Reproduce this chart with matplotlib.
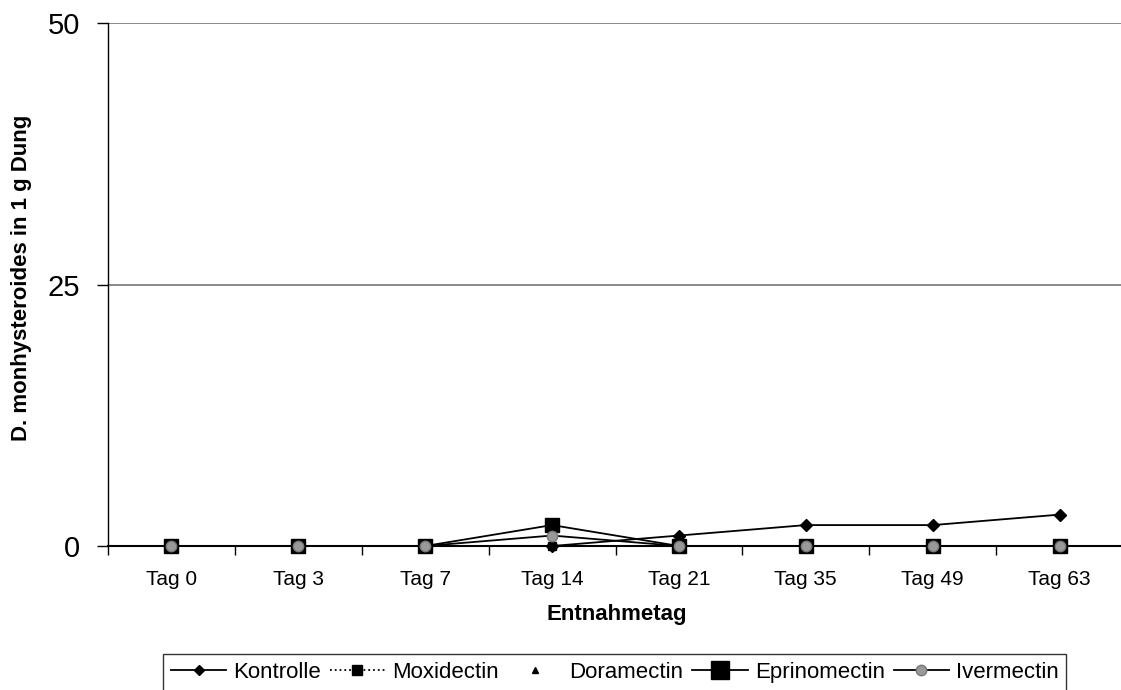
import matplotlib
matplotlib.use("Agg")
import matplotlib.pyplot as plt

plt.rcParams['font.family'] = ['Liberation Sans', 'DejaVu Sans']

days = ["Tag 0", "Tag 3", "Tag 7", "Tag 14", "Tag 21", "Tag 35", "Tag 49", "Tag 63"]
kontrolle = [0, 0, 0, 0, 1, 2, 2, 3]
moxidectin = [0, 0, 0, 0, 0, 0, 0, 0]
doramectin = [0, 0, 0, 0, 0, 0, 0, 0]
eprinomectin = [0, 0, 0, 2, 0, 0, 0, 0]
ivermectin = [0, 0, 0, 1, 0, 0, 0, 0]
y_ticks = [0, 25, 50]

W, H = 1121, 690
fig = plt.figure(figsize=(W / 100, H / 100), dpi=100)
ax = fig.add_axes([108 / W, 1 - 546 / H, 1015 / W, (546 - 23) / H])

x = list(range(len(days)))
ax.plot(x, kontrolle, color='black', lw=1.3, marker='D', ms=6.5,
        mfc='black', mec='black', label='Kontrolle', zorder=3, clip_on=False)
ax.plot(x, moxidectin, color='black', lw=1.3, ls=':', marker='s', ms=6,
        mfc='black', mec='black', label='Moxidectin', zorder=3, clip_on=False)
ax.plot(x, doramectin, ls='none', marker='^', ms=5,
        mfc='black', mec='black', label='Doramectin', zorder=3, clip_on=False)
ax.plot(x, eprinomectin, color='black', lw=1.3, marker='s', ms=10.5,
        mfc='black', mec='black', label='Eprinomectin', zorder=4, clip_on=False)
ax.plot(x, ivermectin, color='black', lw=1.3, marker='o', ms=7.5,
        mfc='#999999', mec='#777777', label='Ivermectin', zorder=5, clip_on=False)

ax.set_xlim(-0.5, len(days) - 0.5)
ax.set_ylim(0, 50)
ax.set_yticks(y_ticks)
ax.set_yticklabels([str(v) for v in y_ticks], fontsize=21)
ax.yaxis.grid(True, color='#808080', lw=1.3)
ax.set_axisbelow(True)

ax.set_xticks(x)
ax.set_xticklabels(days, fontsize=15)
ax.set_xticks([i - 0.5 for i in range(len(days) + 1)], minor=True)
ax.tick_params(axis='x', which='major', length=0, pad=17)
ax.tick_params(axis='x', which='minor', length=6.5, width=1, direction='out')
ax.tick_params(axis='y', length=8, width=1, direction='out', pad=12)

for s in ('top', 'right'):
    ax.spines[s].set_visible(False)
ax.spines['left'].set_color('black')
ax.spines['bottom'].set_color('black')
ax.spines['left'].set_linewidth(1)
ax.spines['bottom'].set_linewidth(1.5)

fig.text(617 / W, 1 - 620 / H, "Entnahmetag", ha='center', va='baseline',
         fontsize=16, fontweight='bold')
fig.text(22 / W, 1 - 278 / H, "D. monhysteroides in 1 g Dung", ha='center',
         va='center', rotation=90, fontsize=16, fontweight='bold')

leg = fig.legend(loc='upper left', bbox_to_anchor=(163 / W, 1 - 654 / H), ncol=5,
                 frameon=True, fancybox=False, fontsize=16, handlelength=2.5,
                 columnspacing=0.4, handletextpad=0.3, borderpad=0.35,
                 borderaxespad=0)
leg.get_frame().set_edgecolor('black')
leg.get_frame().set_linewidth(1)
legend_marker_sizes = [5, 7, 5, 13, 7.5]
for h, ms in zip(leg.legend_handles, legend_marker_sizes):
    h.set_markersize(ms)

fig.savefig("out.png", dpi=100)
